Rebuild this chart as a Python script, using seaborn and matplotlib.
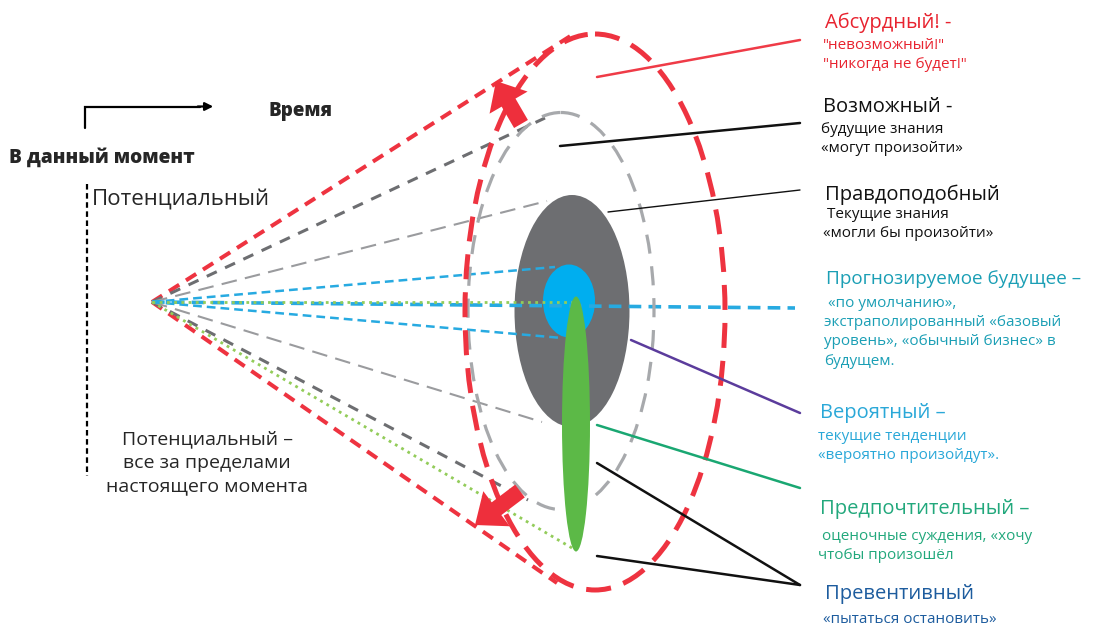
import numpy as np
import matplotlib.pyplot as plt
from matplotlib.patches import Ellipse, FancyArrow
import pandas as pd
import seaborn as sns

# diagram coordinates are in canvas pixels, y grows downward
apex_x, apex_y = 152, 302

# rays from "now" to the cones
ray_kind = ['red', 'red', 'dgray', 'dgray', 'lgray', 'lgray',
            'blue', 'blue_mid', 'blue', 'green', 'green']
ray_end_x = [572, 557, 545, 528, 547, 542, 555, 795, 562, 572, 572]
ray_end_y = [35, 583, 118, 500, 201, 422, 267, 308, 338, 302, 548]

# cones (ellipses): centre, width, height
cone_name = ['absurd', 'possible', 'plausible', 'projected', 'preferable']
cone_cx = [595, 561, 572, 569, 576]
cone_cy = [312, 311, 311, 301, 424]
cone_w = [260, 186, 115, 52, 28]
cone_h = [556, 397, 232, 73, 255]

# leader lines from cones to labels
lead_id = ['absurd', 'possible', 'plausible', 'probable', 'preferable', 'prevent1', 'prevent2']
lead_x0 = [597, 560, 608, 631, 597, 597, 597]
lead_y0 = [77, 146, 212, 340, 425, 463, 556]
lead_x1 = [800, 800, 800, 800, 800, 800, 800]
lead_y1 = [40, 123, 190, 413, 488, 585, 585]

# labels on the right
label_title = ['Абсурдный! -', 'Возможный -', 'Правдоподобный', 'Прогнозируемое будущее –',
               'Вероятный –', 'Предпочтительный –', 'Превентивный']
label_body = ['"невозможный!"\n"никогда не будет!"',
              'будущие знания\n«могут произойти»',
              ' Текущие знания\n«могли бы произойти»',
              ' «по умолчанию»,\nэкстраполированный «базовый\nуровень», «обычный бизнес» в\nбудущем.',
              'текущие тенденции\n«вероятно произойдут».',
              ' оценочные суждения, «хочу\nчтобы произошёл',
              '«пытаться остановить»']
label_x = [825, 823, 825, 826, 820, 820, 825]
label_y = [23, 107, 195, 279, 413, 509, 594]
body_y = [38, 122, 207, 296, 429, 529, 612]
label_color = ['#e8232f', '#111111', '#111111', '#1b9fb5', '#2aa8d8', '#22a87c', '#1d5c9e']
title_size = [14.5, 14.5, 14.5, 13.6, 14.5, 14.5, 14.5]

sns.set_theme(style='white')
plt.rcParams['font.family'] = ['Open Sans', 'DejaVu Sans']

fig = plt.figure(figsize=(10.95, 6.3), dpi=100)
ax = fig.add_axes([0, 0, 1, 1])

# filled cones
fills = {'plausible': '#6d6e71', 'projected': '#00aeef'}
for name, cx, cy, w, h in zip(cone_name, cone_cx, cone_cy, cone_w, cone_h):
    if name in fills:
        ax.add_patch(Ellipse((cx, cy), w, h, facecolor=fills[name], edgecolor='none', zorder=2))

# rays
ray_style = {
    'red': dict(color='#ee3340', lw=2.9, dashes=(3, 2)),
    'dgray': dict(color='#6d6e71', lw=2.2, dashes=(3.6, 3)),
    'lgray': dict(color='#9a9b9e', lw=1.5, dashes=(7.5, 4)),
    'blue': dict(color='#27aae1', lw=1.8, dashes=(3.5, 2)),
    'blue_mid': dict(color='#27aae1', lw=2.6, dashes=(3.5, 2)),
    'green': dict(color='#93cc5a', lw=2.0, dashes=(1, 1.6)),
}
for kind, ex, ey in zip(ray_kind, ray_end_x, ray_end_y):
    ax.plot([apex_x, ex], [apex_y, ey], zorder=3, dash_capstyle='butt', **ray_style[kind])

# outlined cones
ax.add_patch(Ellipse((cone_cx[1], cone_cy[1]), cone_w[1], cone_h[1], fill=False,
                     edgecolor='#a7a9ac', lw=2.3, linestyle=(0, (6, 4)), zorder=4))
ax.add_patch(Ellipse((cone_cx[0], cone_cy[0]), cone_w[0], cone_h[0], fill=False,
                     edgecolor='#ee3340', lw=3.6, linestyle=(0, (5, 2.6)), zorder=4))
ax.add_patch(Ellipse((cone_cx[4], cone_cy[4]), cone_w[4], cone_h[4],
                     facecolor='#5cb947', edgecolor='none', zorder=5))

# expansion arrows
ax.add_patch(FancyArrow(521, 124, -25, -43, width=16, head_width=44, head_length=25,
                        length_includes_head=True, color='#ee2f3c', lw=0, zorder=6))
ax.add_patch(FancyArrow(520, 491, -45, 34, width=16, head_width=44, head_length=27,
                        length_includes_head=True, color='#ee2f3c', lw=0, zorder=6))

# leader lines
lead = pd.DataFrame({
    'id': np.repeat(lead_id, 2),
    'x': np.ravel(np.column_stack([lead_x0, lead_x1])),
    'y': np.ravel(np.column_stack([lead_y0, lead_y1])),
})
lead_palette = {'absurd': '#ef3b47', 'possible': '#111111', 'plausible': '#111111',
                'probable': '#5b3c9c', 'preferable': '#1aa772',
                'prevent1': '#111111', 'prevent2': '#111111'}
sns.lineplot(data=lead, x='x', y='y', hue='id', units='id', estimator=None, sort=False,
             palette=lead_palette, legend=False, lw=1.8, ax=ax, zorder=7)
ax.lines[-5].set_linewidth(1.0)
ax.set_xlim(0, 1095)
ax.set_ylim(630, 0)
ax.axis('off')

# labels
for t, b, x, y, by, c, ts in zip(label_title, label_body, label_x, label_y, body_y,
                                 label_color, title_size):
    ax.text(x, y, t, color=c, fontsize=ts, va='center', ha='left')
    ax.text(x - 2, by, b, color=c, fontsize=11, va='top', ha='left', linespacing=1.38)

# time axis
ax.plot([85, 85, 200], [128, 107, 107], color='black', lw=1.6, solid_joinstyle='miter')
ax.annotate('', xy=(216, 106.5), xytext=(195, 106.5),
            arrowprops=dict(arrowstyle='-|>', color='black', lw=1.6, mutation_scale=12))
ax.text(268, 111, 'Время', fontsize=13.5, fontweight='heavy', va='center', ha='left')
ax.text(9, 158, 'В данный момент', fontsize=13.8, fontweight='heavy', va='center', ha='left')

ax.plot([87, 87], [184, 476], color='black', lw=1.6, dashes=(2.5, 1.6))
ax.text(92, 199, 'Потенциальный', fontsize=16, va='center', ha='left')
ax.text(207, 463, 'Потенциальный –\nвсе за пределами\nнастоящего момента', fontsize=14,
        va='center', ha='center', linespacing=1.38)

fig.savefig('out.png', dpi=100)
